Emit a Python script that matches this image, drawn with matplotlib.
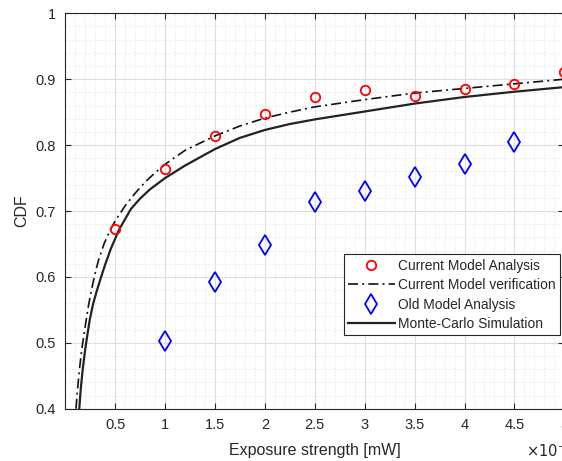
import matplotlib
matplotlib.use("Agg")
import matplotlib.pyplot as plt
from matplotlib.ticker import MultipleLocator, FixedLocator, FuncFormatter

# Data (x in units of 1e-5 mW)
x_points = [0.5, 1.0, 1.5, 2.0, 2.5, 3.0, 3.5, 4.0, 4.5, 5.0]
current_analysis = [0.673, 0.763, 0.814, 0.847, 0.873, 0.883, 0.875, 0.885, 0.893, 0.911]

x_old = [1.0, 1.5, 2.0, 2.5, 3.0, 3.5, 4.0, 4.5]
old_analysis = [0.503, 0.592, 0.648, 0.713, 0.731, 0.751, 0.771, 0.804]

x_verif = [0.107, 0.12, 0.14, 0.16, 0.184, 0.21, 0.234, 0.26, 0.29, 0.33, 0.39, 0.45,
           0.5, 0.6, 0.7, 0.8, 0.9, 1.0, 1.2, 1.5, 1.75, 2.0, 2.25, 2.5, 3.0, 3.5,
           4.0, 4.5, 5.0]
y_verif = [0.400, 0.425, 0.457, 0.484, 0.510, 0.535, 0.558, 0.578, 0.600, 0.624, 0.651, 0.671,
           0.685, 0.708, 0.727, 0.744, 0.758, 0.771, 0.792, 0.814, 0.829, 0.841, 0.850, 0.858,
           0.869, 0.879, 0.886, 0.893, 0.900]

x_mc = [0.14, 0.155, 0.174, 0.195, 0.217, 0.245, 0.28, 0.32, 0.357, 0.40, 0.457, 0.54,
        0.657, 0.75, 0.85, 1.0, 1.2, 1.5, 1.75, 2.0, 2.25, 2.5, 3.0, 3.5, 4.0, 4.5, 5.0]
y_mc = [0.400, 0.430, 0.459, 0.485, 0.508, 0.535, 0.560, 0.581, 0.599, 0.619, 0.643, 0.672,
        0.703, 0.719, 0.733, 0.750, 0.769, 0.794, 0.811, 0.823, 0.832, 0.839, 0.851, 0.863,
        0.873, 0.881, 0.888]

x_ticks = [0.5, 1, 1.5, 2, 2.5, 3, 3.5, 4, 4.5, 5]
y_ticks = [0.4, 0.5, 0.6, 0.7, 0.8, 0.9, 1.0]

plt.rcParams['font.family'] = ['Liberation Sans', 'DejaVu Sans']
txt = '#262626'

fig = plt.figure(figsize=(5.62, 4.61), dpi=100)
W, H = 562, 461
left, right, top, bottom = 65.3, 564.3, 13.3, 408.7
ax = fig.add_axes([left / W, 1 - bottom / H, (right - left) / W, (bottom - top) / H])

ax.plot(x_points, current_analysis, 'o', mfc='none', mec='#ff0000', ms=6.8, mew=1.3,
        label='Current Model Analysis', zorder=4, clip_on=False)
ax.plot(x_verif, y_verif, color='#111111', lw=1.2, ls=(0, (6, 2.5, 1.2, 2.5)),
        label='Current Model verification', zorder=3)
ax.plot(x_old, old_analysis, 'd', mfc='none', mec='#0000ff', ms=10.5, mew=1.3,
        label='Old Model Analysis', zorder=4)
ax.plot(x_mc, y_mc, color='#222222', lw=1.6, label='Monte-Carlo Simulation', zorder=3)

ax.set_xlim(0, 5)
ax.set_ylim(0.4, 1.0)
ax.xaxis.set_major_locator(FixedLocator(x_ticks))
ax.yaxis.set_major_locator(FixedLocator(y_ticks))
ax.xaxis.set_minor_locator(MultipleLocator(0.1))
ax.yaxis.set_minor_locator(MultipleLocator(0.02))
ax.xaxis.set_major_formatter(FuncFormatter(lambda v, p: f"{v:g}"))
ax.yaxis.set_major_formatter(FuncFormatter(lambda v, p: f"{v:g}"))

ax.grid(which='major', color='#dedede', lw=0.8, ls='-')
ax.grid(which='minor', color='#e6e6e6', lw=0.6, ls=(0, (2, 2)))
ax.set_axisbelow(True)

ax.tick_params(which='major', direction='in', length=4, width=0.8, colors=txt,
               labelsize=10.5, top=True, right=True, pad=7)
ax.tick_params(which='minor', length=0)
for s in ax.spines.values():
    s.set_color(txt)
    s.set_linewidth(0.8)

ax.set_xlabel('Exposure strength [mW]', fontsize=11.5, color=txt, labelpad=7.5)
ax.set_ylabel('CDF', fontsize=11.5, color=txt, labelpad=4)
fig.text(526 / W, 1 - 451 / H, r'$\times10^{-5}$', fontsize=10.5, color=txt,
         ha='left', va='center')

leg = ax.legend(loc='lower right', bbox_to_anchor=(0.991, 0.186), fontsize=9.9,
                frameon=True, fancybox=False, edgecolor='#262626', framealpha=1,
                borderpad=0.3, labelspacing=0.4, handlelength=3.4, handletextpad=0.25,
                borderaxespad=0)
leg.get_frame().set_linewidth(0.8)
for t in leg.get_texts():
    t.set_color(txt)

fig.savefig('out.png', dpi=100)
